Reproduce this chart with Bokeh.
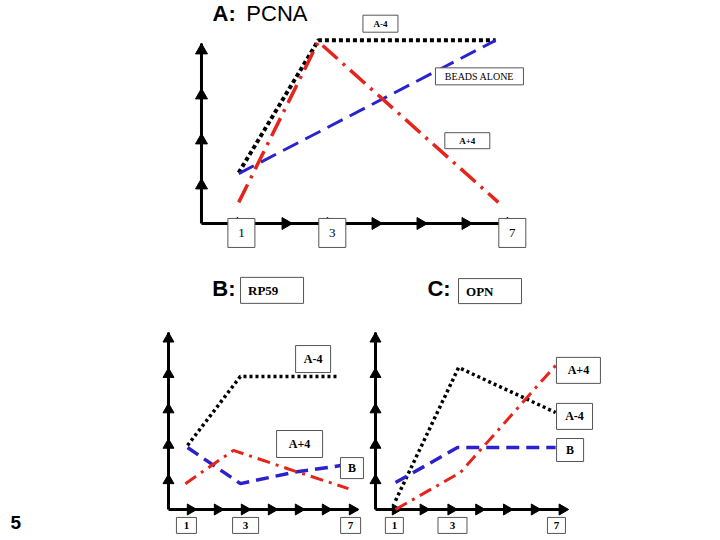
import math
from bokeh.plotting import figure
from bokeh.models import Range1d
from bokeh.embed import file_html
from bokeh.resources import INLINE
from bokeh.core.properties import value

W, H = 720, 540
MARGIN = 0

# ---------------- data (days on x, relative level on y) ----------------
tick_labels = ["1", "3", "7"]

# Panel A: PCNA
A_minus4_x = [0.96, 2.73, 6.67]
A_minus4_y = [1.13, 4.07, 4.07]
A_beads_x = [0.96, 6.67]
A_beads_y = [1.11, 4.07]
A_plus4_x = [0.96, 2.73, 6.73]
A_plus4_y = [0.47, 4.04, 0.47]
A_tick_days = [1.02, 3.04, 7.04]

# Panel B: RP59
B_minus4_x = [0.89, 2.85, 6.48]
B_minus4_y = [1.81, 3.76, 3.76]
B_beads_x = [0.89, 2.85, 4.81, 6.56]
B_beads_y = [1.75, 0.73, 1.05, 1.24]
B_plus4_x = [0.81, 2.59, 4.81, 6.85]
B_plus4_y = [0.73, 1.67, 1.10, 0.59]
B_tick_days = [0.85, 3.04, 6.93]

# Panel C: OPN
C_minus4_x = [1.0, 3.27, 6.76]
C_minus4_y = [0.25, 4.01, 2.74]
C_beads_x = [1.0, 3.23, 6.76]
C_beads_y = [0.76, 1.75, 1.75]
C_plus4_x = [1.0, 3.34, 6.76]
C_plus4_y = [0.0, 1.05, 4.07]
C_tick_days = [0.96, 3.05, 6.79]

# ---------------- figure ----------------
p = figure(width=W, height=H, output_backend="svg", toolbar_location=None,
           x_range=Range1d(0, W), y_range=Range1d(0, H),
           min_border=0, min_border_left=0, min_border_right=0,
           min_border_top=0, min_border_bottom=0)
p.axis.visible = False
p.grid.visible = False
p.outline_line_color = None
p.background_fill_color = "white"
p.border_fill_color = "white"


def add_ranges(name, day1_px, px_per_day, zero_py, px_per_unit):
    xs = 1 - (day1_px - MARGIN) / px_per_day
    p.extra_x_ranges[name] = Range1d(xs, xs + W / px_per_day)
    from_bottom = H - (zero_py - MARGIN)
    ys = 0 - from_bottom / px_per_unit
    p.extra_y_ranges[name] = Range1d(ys, ys + H / px_per_unit)


add_ranges("A", 240, 45.0, 223, 45.0)
add_ranges("B", 190, 27.0, 509, 35.4)
add_ranges("C", 395, 27.8, 509, 35.4)

RED = "#e5251c"
BLUE = "#2a22cc"
BLACK = "#000000"
SERIF = value("Liberation Serif")
SANS = value("Liberation Sans")


def rn(name):
    return dict(x_range_name=name, y_range_name=name)


def draw_axes(name, ax_x, x_end, y_top, arrow_days, arrow_vals, size, ppu, lw):
    r = rn(name)
    p.line([ax_x, x_end], [0, 0], line_color=BLACK, line_width=lw, **r)
    p.line([ax_x, ax_x], [0, y_top], line_color=BLACK, line_width=lw, **r)
    p.scatter(arrow_days, [0] * len(arrow_days), marker="triangle", size=size,
              angle=-math.pi / 2, fill_color=BLACK, line_color=BLACK, **r)
    off = (2.0 / 3.0) * size * math.sqrt(3) / 2 / ppu
    p.scatter([ax_x] * len(arrow_vals), [v - off for v in arrow_vals],
              marker="triangle", size=size, fill_color=BLACK, line_color=BLACK, **r)


def draw_series(name, sx, sy, kind, lw, small=False):
    r = rn(name)
    if kind == "dot":
        p.line(sx, sy, line_color=BLACK, line_width=lw,
               line_dash="3 3" if small else "4 3", **r)
    elif kind == "dash":
        p.line(sx, sy, line_color=BLUE, line_width=lw,
               line_dash="13 7" if small else "17 8", **r)
    else:
        p.line(sx, sy, line_color=RED, line_width=lw,
               line_dash="13 6 3 6" if small else "20 7 3 7", **r)


def box(name, x, y, w, h, text, size, bold=True, align="center", tx=None):
    r = rn(name)
    p.rect([x], [y], width=w, height=h, width_units="screen", height_units="screen",
           fill_color="white", line_color="#555555", line_width=1, **r)
    p.text([x if tx is None else tx], [y], text=[text], text_font=SERIF,
           text_font_size=f"{size}px", text_font_style="bold" if bold else "normal",
           text_align=align, text_baseline="middle", text_color=BLACK, **r)


# ---------- Panel A ----------
draw_axes("A", 0.133, 7.0, 4.0, [1, 2, 3, 4, 5, 6, 7], [1, 2, 3, 4], 12, 45.0, 3)
draw_series("A", A_minus4_x, A_minus4_y, "dot", 4)
draw_series("A", A_beads_x, A_beads_y, "dash", 3)
draw_series("A", A_plus4_x, A_plus4_y, "dashdot", 3.5)
for d, t in zip(A_tick_days, tick_labels):
    box("A", d, -0.21, 27, 29, t, 13, bold=False)
box("A", 4.11, 4.44, 35, 17, "A-4", 9)
box("A", 6.31, 3.27, 88, 17, "BEADS ALONE", 10, bold=False)
box("A", 6.04, 1.84, 45, 16, "A+4", 9)
p.text([0.38], [4.66], text=["A:"], text_font=SANS, text_font_size="22px",
       text_font_style="bold", text_baseline="alphabetic", **rn("A"))
p.text([1.13], [4.66], text=["PCNA"], text_font=SANS, text_font_size="22px",
       text_baseline="alphabetic", **rn("A"))

# ---------- Panel B ----------
draw_axes("B", 0.185, 7.2, 5.0, [1, 2, 3, 4, 5, 6, 7], [1, 2, 3, 4, 5], 11, 35.4, 3)
draw_series("B", B_minus4_x, B_minus4_y, "dot", 3.5, small=True)
draw_series("B", B_beads_x, B_beads_y, "dash", 3.5, small=True)
draw_series("B", B_plus4_x, B_plus4_y, "dashdot", 3, small=True)
for d, t in zip(B_tick_days, tick_labels):
    box("B", d, -0.45, 20 if t != "3" else 26, 16, t, 11)
box("B", 5.54, 4.25, 35, 27, "A-4", 12)
box("B", 5.04, 1.85, 46, 27, "A+4", 12)
box("B", 6.98, 1.17, 23, 21, "B", 12)
box("B", 4.02, 6.19, 63, 26, "RP59", 13, align="left", tx=4.02 - 24 / 27.0)
p.text([1.81], [6.24], text=["B:"], text_font=SANS, text_font_size="22px",
       text_font_style="bold", text_baseline="alphabetic", **rn("B"))

# ---------- Panel C ----------
draw_axes("C", 0.28, 7.1, 5.0, [1, 2, 3, 4, 5, 6, 7], [1, 2, 3, 4, 5], 11, 35.4, 3)
draw_series("C", C_minus4_x, C_minus4_y, "dot", 3.5, small=True)
draw_series("C", C_beads_x, C_beads_y, "dash", 3.5, small=True)
draw_series("C", C_plus4_x, C_plus4_y, "dashdot", 3, small=True)
for d, t in zip(C_tick_days, tick_labels):
    box("C", d, -0.45, 18 if t != "3" else 29, 16, t, 11)
box("C", 7.58, 3.93, 44, 26, "A+4", 12)
box("C", 7.44, 2.63, 36, 26, "A-4", 12)
box("C", 7.28, 1.68, 27, 23, "B", 12)
box("C", 4.40, 6.17, 63, 25, "OPN", 13, align="left", tx=4.40 - 24 / 27.8)
p.text([2.15], [6.24], text=["C:"], text_font=SANS, text_font_size="22px",
       text_font_style="bold", text_baseline="alphabetic", **rn("C"))

# slide number
p.text([10.0], [18.0], text=["5"], text_font=SANS, text_font_size="19px",
       text_font_style="bold", text_baseline="alphabetic")

open("out.html", "w").write(file_html(p, INLINE))
